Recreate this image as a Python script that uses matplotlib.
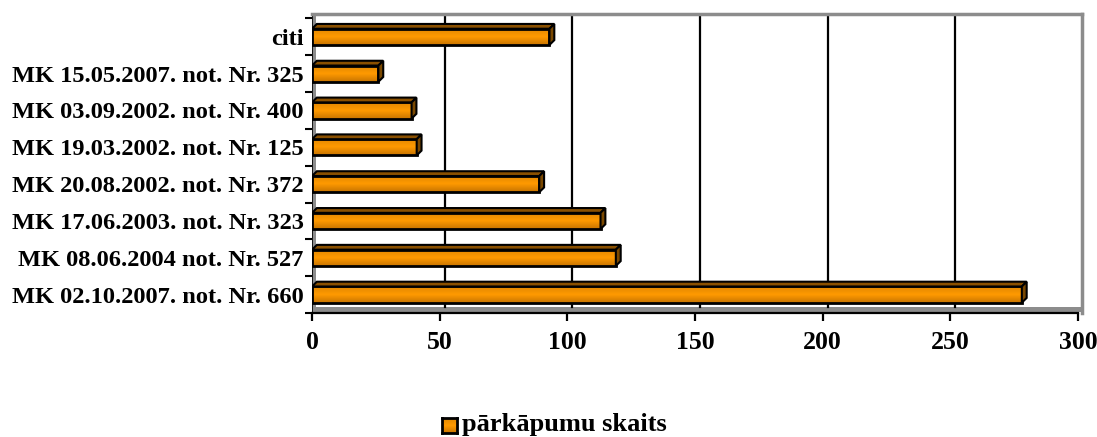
import numpy as np
import matplotlib.pyplot as plt
from matplotlib.patches import Polygon, Rectangle
from matplotlib.colors import LinearSegmentedColormap

# data
categories = ['MK 02.10.2007. not. Nr. 660', 'MK 08.06.2004 not. Nr. 527',
              'MK 17.06.2003. not. Nr. 323', 'MK 20.08.2002. not. Nr. 372',
              'MK 19.03.2002. not. Nr. 125', 'MK 03.09.2002. not. Nr. 400',
              'MK 15.05.2007. not. Nr. 325', 'citi']
values = [278, 119, 113, 89, 41, 39, 26, 93]
xticks = [0, 50, 100, 150, 200, 250, 300]
series_name = 'pārkāpumu skaits'

plt.rcParams['font.family'] = ['Liberation Serif', 'DejaVu Serif']
plt.rcParams['font.weight'] = 'bold'

fig = plt.figure(figsize=(10.97, 4.37), dpi=100)
W, H = 1097, 437
x0, x1 = 312, 1078          # pixel span of 0..300
xmax = 301.5
ax_w = (x1 - x0) * xmax / 300
ax = fig.add_axes([x0 / W, 1 - 313 / H, ax_w / W, (313 - 14) / H])

ymin, ymax = -0.46, 7.62
dx, dy = 1.9, 0.13   # depth offset (data units)
h = 0.22

# walls
ax.add_patch(Polygon([(0, ymin), (xmax, ymin), (xmax, ymin + dy), (0, ymin + dy)],
                     closed=True, fc='#8c8c8c', ec='none', zorder=1))
ax.add_patch(Rectangle((0, ymin), 1.5, ymax - ymin, fc='#8c8c8c', ec='none', zorder=1))
ax.plot([0, 0], [ymin, ymax], color='black', lw=1.2, zorder=2)

# back-wall gridlines
for t in xticks[1:-1]:
    ax.plot([t + dx, t + dx], [ymin + dy, ymax], color='black', lw=1.6, zorder=1)

# gradient for bar fronts
grad = np.linspace(0, 1, 64).reshape(-1, 1)
cmap = LinearSegmentedColormap.from_list('o', ['#c87400', '#ff9a00', '#e08600'])

ypos = np.arange(len(categories))
for y, v in zip(ypos, values):
    im = ax.imshow(grad, cmap=cmap, aspect='auto', extent=(0, v, y - h, y + h),
                   origin='lower', zorder=3)
    r = Rectangle((0, y - h), v, 2 * h, fc='none', ec='black', lw=2, zorder=4)
    ax.add_patch(r)
    im.set_clip_path(r)
    top = Polygon([(0, y + h), (v, y + h), (v + dx, y + h + dy), (dx, y + h + dy)],
                  closed=True, fc='#8a5000', ec='black', lw=1.5, zorder=4)
    side = Polygon([(v, y - h), (v + dx, y - h + dy), (v + dx, y + h + dy), (v, y + h)],
                   closed=True, fc='#7a4800', ec='black', lw=1.5, zorder=4)
    ax.add_patch(top)
    ax.add_patch(side)

ax.set_xlim(0, xmax)
ax.set_ylim(ymin, ymax)

# spines
for s in ['top', 'right']:
    ax.spines[s].set_color('#8c8c8c')
    ax.spines[s].set_linewidth(2.5)
ax.spines['left'].set_visible(False)
ax.spines['bottom'].set_bounds(0, 300)
ax.spines['bottom'].set_linewidth(1.6)

ax.set_xticks(xticks)
ax.set_xticklabels([str(t) for t in xticks], fontsize=18.5, fontweight='bold')
ax.tick_params(axis='x', length=6, width=1.6, pad=7)
ax.set_yticks(ypos)
ax.set_yticklabels(categories, fontsize=17.6, fontweight='bold')
ax.tick_params(axis='y', length=0, pad=6)
ax.set_yticks(np.arange(len(categories) + 1) - 0.5, minor=True)
ax.tick_params(axis='y', which='minor', length=5, width=1.5)

# legend
fig.text(462 / W, 1 - 425 / H, series_name, fontsize=19, fontweight='bold',
         va='center', ha='left')
lax = fig.add_axes([442 / W, 1 - 433 / H, 15 / W, 15 / H])
lax.imshow(grad, cmap=cmap, aspect='auto', extent=(0, 1, 0, 1), origin='lower')
lax.set_xticks([])
lax.set_yticks([])
for s in lax.spines.values():
    s.set_linewidth(2)

fig.savefig('out.png', dpi=100)
